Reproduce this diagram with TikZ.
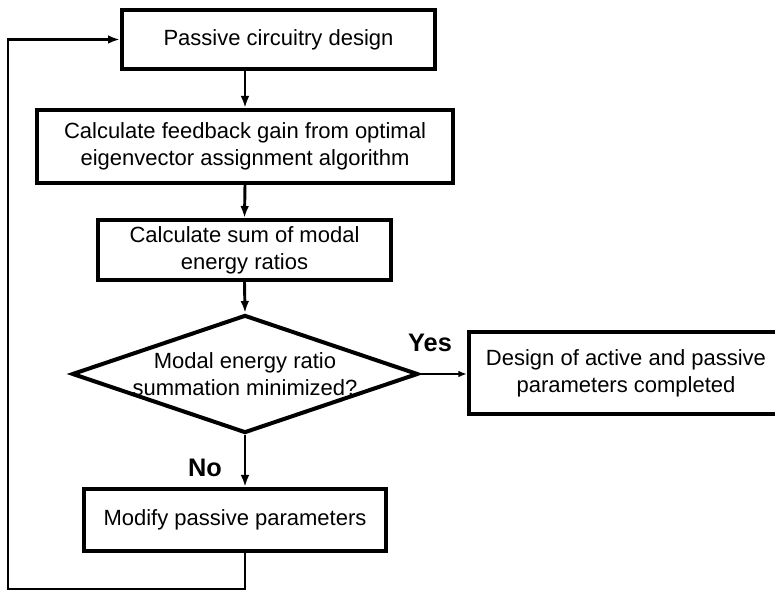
\documentclass[tikz,border=0pt]{standalone}
\usepackage{fontspec}
\setmainfont{Liberation Sans}
\usetikzlibrary{positioning,shapes.geometric,arrows.meta}

\begin{document}
\begin{tikzpicture}[x=0.75pt,y=0.75pt,yscale=-1,xscale=1,
    box/.style={draw,line width=3pt,inner sep=0pt,align=center,font=\fontsize{16.5}{20}\selectfont},
    decision/.style={diamond,draw,line width=3pt,aspect=2.9,inner sep=-4pt,align=center,font=\fontsize{16.5}{20}\selectfont},
    arr/.style={line width=2.2pt,-{Latex[length=9pt,width=6.5pt]}},
    answer/.style={font=\bfseries\fontsize{19}{22}\selectfont}]
        \useasboundingbox (0,0) rectangle (775,591);

        %Shape: Rectangle
        \node [box,minimum width=234.75pt,minimum height=44.25pt] (passive) at (278.5,39.5) {Passive circuitry design};
        %Shape: Rectangle
        \node [box,minimum width=312pt,minimum height=54.75pt] (gain) at (245,146.5) {Calculate feedback gain from optimal\\eigenvector assignment algorithm};
        %Shape: Rectangle
        \node [box,minimum width=219.75pt,minimum height=45pt] (ratios) at (244.5,250) {Calculate sum of modal\\energy ratios};
        %Shape: Diamond
        \node [decision,minimum width=259.5pt,minimum height=88.5pt] (minimized) at (245,374) {Modal energy ratio\\summation minimized?};
        %Shape: Rectangle
        \node [box,minimum width=235.5pt,minimum height=61.5pt] (done) at (626,373) {Design of active and passive\\parameters completed};
        %Shape: Rectangle
        \node [box,minimum width=226.5pt,minimum height=46.5pt] (modify) at (235,520) {Modify passive parameters};

        %Straight Lines
        \draw [arr] (passive.south -| gain.north) -- (gain.north);
        \draw [arr] (gain.south) -- (ratios.north);
        \draw [arr] (ratios.south) -- (minimized.north);
        \draw [line width=1.6pt,-{Latex[length=6.5pt,width=5pt]}] (minimized.east) -- (minimized.east -| done.west);
        \draw [arr] (minimized.south) -- (minimized.south |- modify.north);

        %Feedback loop
        \coordinate (back) at (8,589);
        \draw [arr] (modify.south -| minimized.south) |- (back) |- (passive.west);

        % Text Node
        \node [answer] (yes) at (430,343) {Yes};
        % Text Node
        \node [answer] (no) at (205,468) {No};
\end{tikzpicture}
\end{document}
